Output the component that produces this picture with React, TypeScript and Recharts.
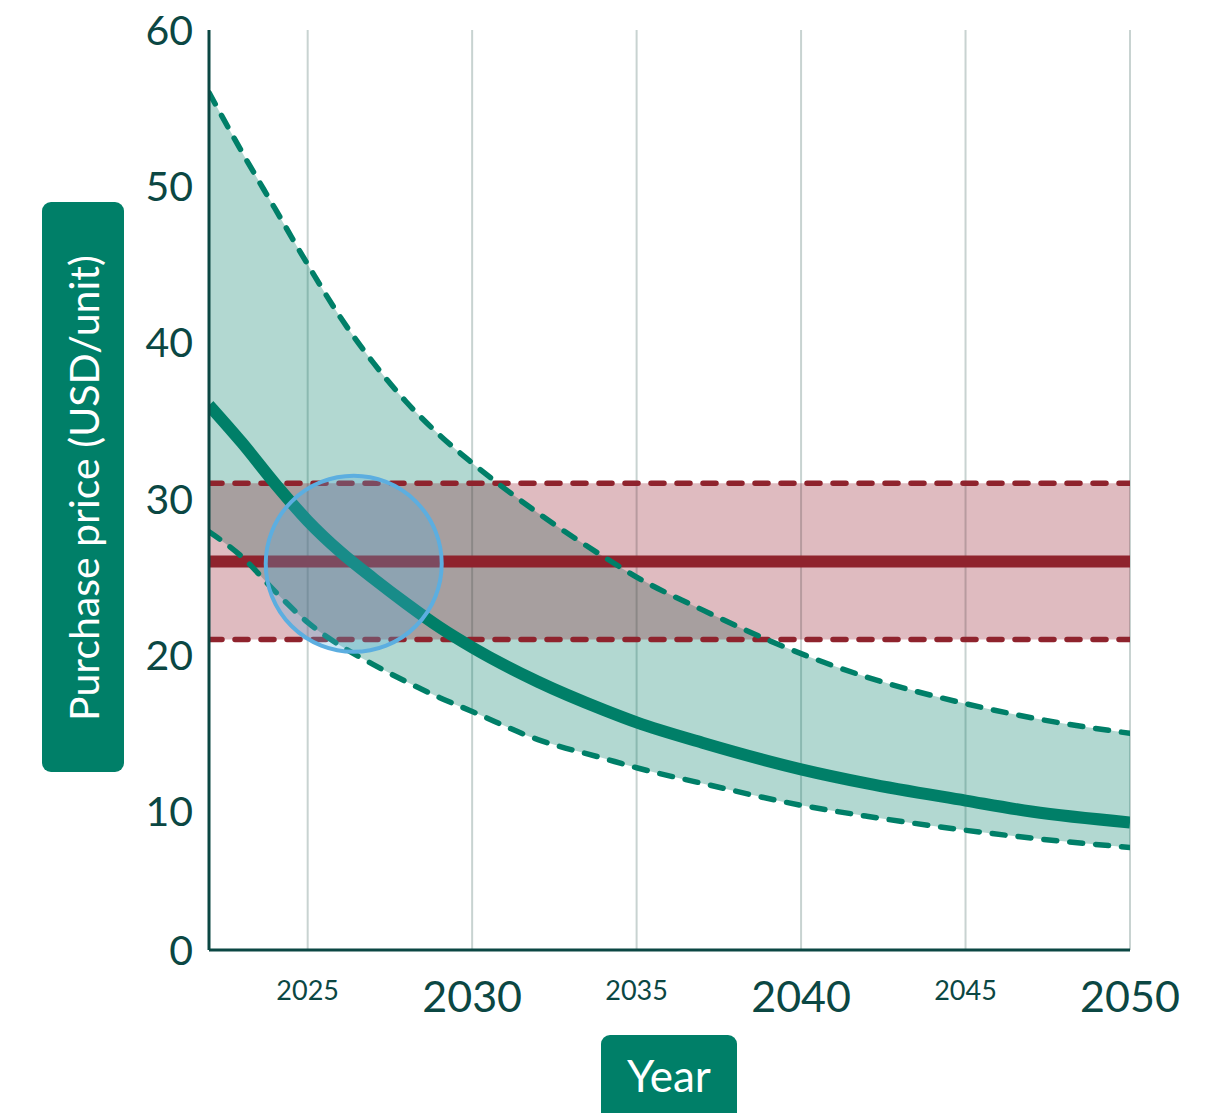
import {
  ComposedChart,
  Area,
  Line,
  XAxis,
  YAxis,
  CartesianGrid,
  ReferenceDot,
} from 'recharts';

// values (USD/unit)
const years = [2022, 2023, 2024, 2025, 2026, 2027, 2028, 2029, 2030, 2032, 2034, 2035, 2037, 2040, 2042, 2045, 2047, 2050];
const centralCase = [36.0, 33.6, 31.0, 28.6, 26.6, 24.9, 23.3, 21.8, 20.5, 18.3, 16.5, 15.7, 14.4, 12.7, 11.8, 10.7, 10.0, 9.3];
const upperBound = [56.0, 52.2, 48.6, 45.0, 41.6, 38.7, 36.2, 34.1, 32.3, 29.1, 26.3, 25.0, 22.9, 20.1, 18.6, 16.9, 16.0, 15.0];
const lowerBound = [27.9, 26.3, 24.1, 22.1, 20.6, 19.4, 18.3, 17.3, 16.4, 14.6, 13.4, 12.8, 11.8, 10.4, 9.7, 8.8, 8.3, 7.7];

const targetLow = 21;
const targetMid = 26;
const targetHigh = 31;

// highlighted crossover point
const crossYear = 2026.4;
const crossPrice = 25.85;

const xTicks = [2025, 2030, 2035, 2040, 2045, 2050];
const majorYears = [2030, 2040, 2050];
const yTicks = [0, 10, 20, 30, 40, 50, 60];
const innerTicks = [10, 20, 30, 40, 50];

const rows = years.map((year, i) => ({
  year,
  central: centralCase[i],
  upper: upperBound[i],
  lower: lowerBound[i],
  band: [lowerBound[i], upperBound[i]],
  targetLow,
  targetMid,
  targetHigh,
  target: [targetLow, targetHigh],
}));

const GREEN = '#007f68';
const RED = '#8f232d';
const INK = '#0b4743';
const FONT = 'Lato, "Open Sans", sans-serif';
const PLOT_BOTTOM = 950;
const Y_DOMAIN: [number, number] = [1.14, 60];

function YTick({ x, y, payload }: any) {
  return (
    <text
      x={x - 16}
      y={Math.min(y, PLOT_BOTTOM)}
      dy="0.36em"
      textAnchor="end"
      fill={INK}
      fontSize={41}
      fontFamily={FONT}
    >
      {payload.value}
    </text>
  );
}

function XTick({ x, y, payload }: any) {
  const major = majorYears.includes(payload.value);
  return (
    <text
      x={x}
      y={y + (major ? 47 : 40)}
      dy="0.36em"
      textAnchor="middle"
      fill={INK}
      fontSize={major ? 43 : 27}
      fontFamily={FONT}
    >
      {payload.value}
    </text>
  );
}

function YBadge() {
  return (
    <g>
      <rect x={42} y={202} width={82} height={570} rx={9} fill={GREEN} />
      <text
        x={83}
        y={488}
        transform="rotate(-90, 83, 488)"
        textAnchor="middle"
        dominantBaseline="central"
        fill="#fff"
        fontSize={41}
        fontFamily={FONT}
      >
        Purchase price (USD/unit)
      </text>
    </g>
  );
}

function XBadge() {
  return (
    <g>
      <rect x={601} y={1035} width={136} height={90} rx={9} fill={GREEN} />
      <text x={669} y={1075} textAnchor="middle" dominantBaseline="central" fill="#fff" fontSize={44} fontFamily={FONT}>
        Year
      </text>
    </g>
  );
}

function RegionBadge() {
  return (
    <g>
      <rect x={876} y={82} width={202} height={80} rx={9} fill={GREEN} />
      <text x={977} y={123} textAnchor="middle" dominantBaseline="central" fill="#fff" fontSize={62} fontFamily={FONT}>
        US
      </text>
    </g>
  );
}

export default function App() {
  return (
    <div style={{ position: 'absolute', left: 0, top: 0, background: '#fff' }}>
      <ComposedChart width={1215} height={1113} data={rows} margin={{ top: 30, right: 85, bottom: 103, left: 149 }}>
        <CartesianGrid horizontal={false} stroke="#c8d3d1" strokeWidth={2} />
        <XAxis
          dataKey="year"
          type="number"
          domain={[2022, 2050]}
          ticks={xTicks}
          interval={0}
          height={60}
          tickSize={0}
          tickMargin={0}
          tickLine={false}
          axisLine={{ stroke: INK, strokeWidth: 3 }}
          tick={<XTick />}
          allowDataOverflow
          label={<XBadge />}
        />
        <XAxis
          xAxisId="top"
          orientation="top"
          type="number"
          domain={[2022, 2050]}
          height={0}
          tick={false}
          tickLine={false}
          axisLine={{ stroke: INK, strokeWidth: 3 }}
          label={<RegionBadge />}
        />
        <YAxis
          type="number"
          domain={Y_DOMAIN}
          ticks={yTicks}
          interval={0}
          width={60}
          tickSize={0}
          tickMargin={0}
          tickLine={false}
          axisLine={{ stroke: INK, strokeWidth: 3 }}
          tick={<YTick />}
          allowDataOverflow
          label={<YBadge />}
        />
        {/* short inward tick marks along the left axis */}
        <YAxis
          yAxisId="inner"
          type="number"
          domain={Y_DOMAIN}
          ticks={innerTicks}
          interval={0}
          mirror
          width={0}
          tickSize={12}
          tick={false}
          tickLine={{ stroke: INK, strokeWidth: 3 }}
          axisLine={false}
          allowDataOverflow
        />
        <YAxis
          yAxisId="right"
          orientation="right"
          type="number"
          domain={Y_DOMAIN}
          width={0}
          tick={false}
          tickLine={false}
          axisLine={{ stroke: INK, strokeWidth: 3 }}
        />

        <Area
          type="monotone"
          dataKey="band"
          stroke="none"
          fill={GREEN}
          fillOpacity={0.3}
          isAnimationActive={false}
        />
        <Area
          type="linear"
          dataKey="target"
          stroke="none"
          fill="#8b0c1e"
          fillOpacity={0.28}
          isAnimationActive={false}
        />
        <Line
          type="linear"
          dataKey="targetHigh"
          stroke={RED}
          strokeWidth={5.5}
          strokeDasharray="13 13"
          strokeLinecap="round"
          dot={false}
          isAnimationActive={false}
        />
        <Line
          type="linear"
          dataKey="targetLow"
          stroke={RED}
          strokeWidth={5.5}
          strokeDasharray="13 13"
          strokeLinecap="round"
          dot={false}
          isAnimationActive={false}
        />
        <Line
          type="linear"
          dataKey="targetMid"
          stroke={RED}
          strokeWidth={12}
          dot={false}
          isAnimationActive={false}
        />
        <Line
          type="monotone"
          dataKey="upper"
          stroke={GREEN}
          strokeWidth={5.5}
          strokeDasharray="13 13"
          strokeLinecap="round"
          dot={false}
          isAnimationActive={false}
        />
        <Line
          type="monotone"
          dataKey="lower"
          stroke={GREEN}
          strokeWidth={5.5}
          strokeDasharray="13 13"
          strokeLinecap="round"
          dot={false}
          isAnimationActive={false}
        />
        <Line
          type="monotone"
          dataKey="central"
          stroke={GREEN}
          strokeWidth={12}
          dot={false}
          isAnimationActive={false}
        />
        <ReferenceDot
          x={crossYear}
          y={crossPrice}
          r={88}
          fill="rgb(82,171,221)"
          fillOpacity={0.29}
          stroke="#5caee0"
          strokeWidth={4}
          ifOverflow="visible"
        />
      </ComposedChart>
    </div>
  );
}
